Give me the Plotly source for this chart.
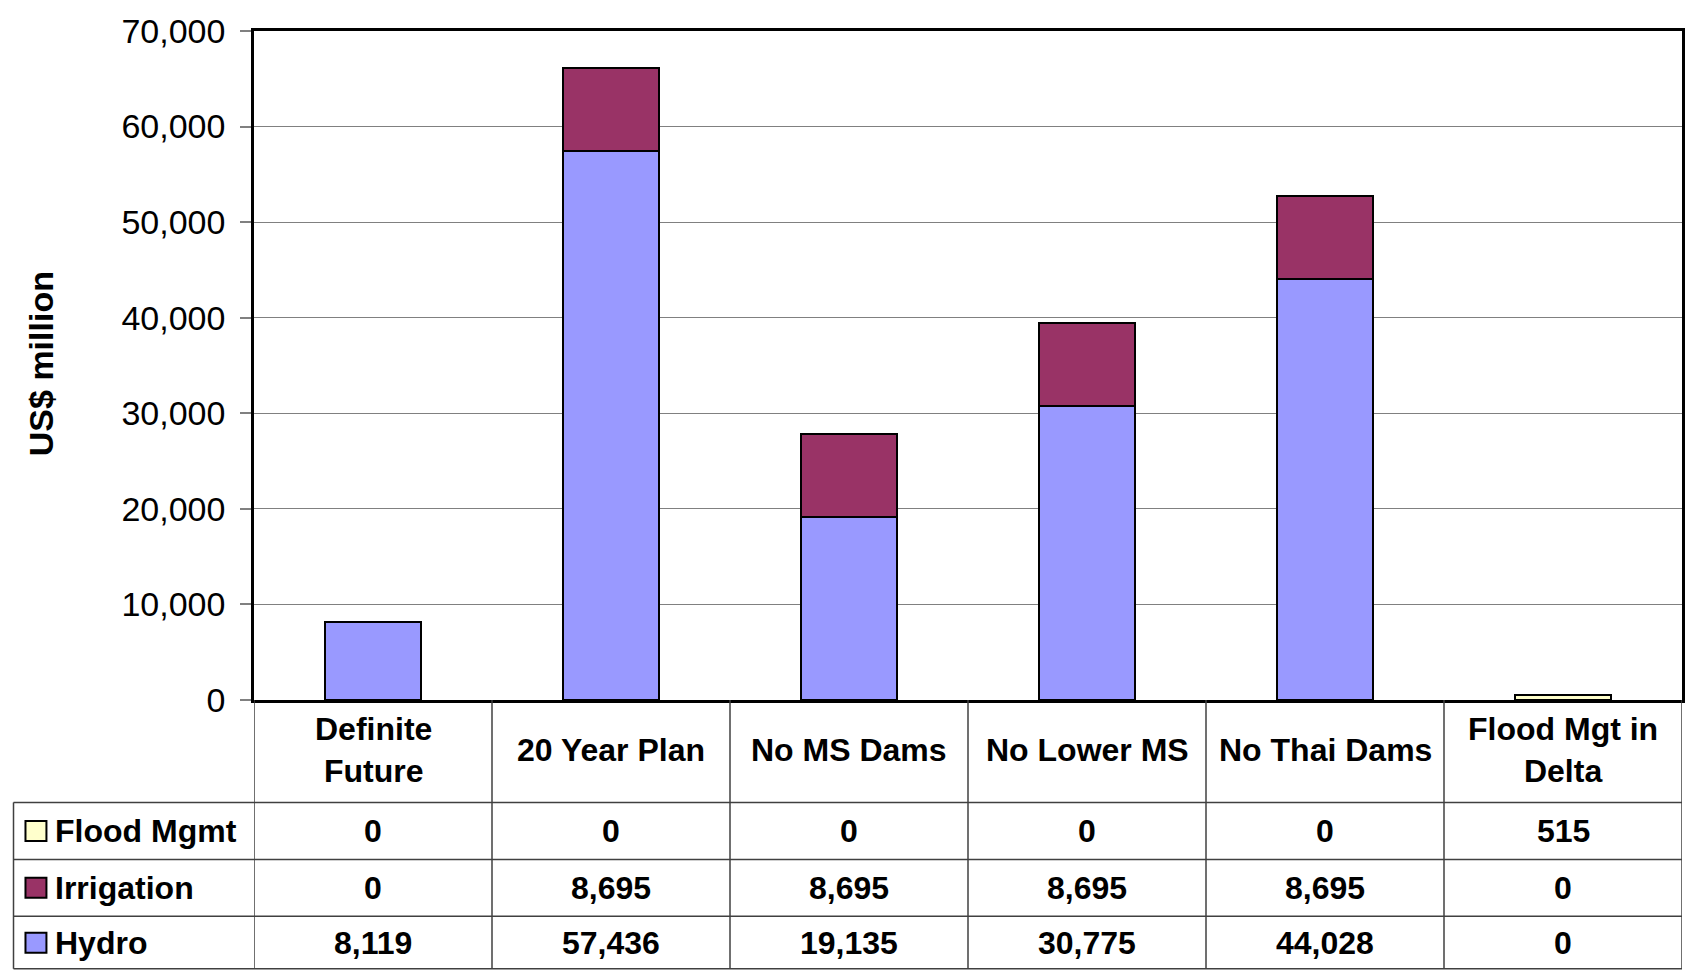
import plotly.graph_objects as go

categories = ["Definite Future", "20 Year Plan", "No MS Dams", "No Lower MS", "No Thai Dams", "Flood Mgt in Delta"]
category_labels = ["Definite<br>Future", "20 Year Plan", "No MS Dams", "No Lower MS", "No Thai Dams", "Flood Mgt in<br>Delta"]
hydro = [8119, 57436, 19135, 30775, 44028, 0]
irrigation = [0, 8695, 8695, 8695, 8695, 0]
flood_mgmt = [0, 0, 0, 0, 0, 515]
y_ticks = [0, 10000, 20000, 30000, 40000, 50000, 60000, 70000]

series = [("Hydro", hydro, "#9999FF"), ("Irrigation", irrigation, "#993366"), ("Flood Mgmt", flood_mgmt, "#FFFFCC")]

W, H = 1690, 971
L, R, T, B = 254, 1685, 31, 700.5

def pyp(y):
    return (B - y) / (B - T)

def pxp(x):
    return (x - L) / (R - L)

FONT = "Liberation Sans, Arial, sans-serif"
TS = 32
fig = go.Figure()
xs = list(range(len(categories)))
for name, vals, color in series:
    fig.add_trace(go.Bar(
        x=xs, y=[v if v else None for v in vals], name=name,
        marker=dict(color=color, line=dict(color="black", width=2)),
        width=0.4, showlegend=False, hoverinfo="y+name"))

shapes = []
annotations = []
line_col = "#404040"
for yy in [803, 860, 917, 969.5]:
    shapes.append(dict(type="line", xref="paper", yref="paper", x0=pxp(13), x1=1, y0=pyp(yy), y1=pyp(yy),
                       line=dict(color=line_col, width=1.5)))
shapes.append(dict(type="line", xref="paper", yref="paper", x0=pxp(13), x1=pxp(13), y0=pyp(803), y1=pyp(969.5),
                   line=dict(color=line_col, width=1.5)))
for k in range(len(categories) + 1):
    shapes.append(dict(type="line", xref="x", yref="paper", x0=k - 0.5, x1=k - 0.5, y0=0, y1=pyp(969.5),
                       line=dict(color=line_col, width=1.5)))

for k, lab in enumerate(category_labels):
    annotations.append(dict(x=k, xref="x", y=pyp(751), yref="paper", text=lab, showarrow=False,
                            xanchor="center", yanchor="middle",
                            font=dict(family=FONT, size=TS, color="black", weight="bold")))

row_centers = {"Flood Mgmt": 831.5, "Irrigation": 888.5, "Hydro": 943.5}
for name, vals, color in series:
    yc = row_centers[name]
    shapes.append(dict(type="rect", xref="paper", yref="paper", x0=pxp(25), x1=pxp(46),
                       y0=pyp(yc - 10), y1=pyp(yc + 10), fillcolor=color, line=dict(color="black", width=2)))
    annotations.append(dict(x=pxp(53), xref="paper", y=pyp(yc), yref="paper", text=name, showarrow=False,
                            xanchor="left", yanchor="middle",
                            font=dict(family=FONT, size=TS, color="black", weight="bold")))
    for k, v in enumerate(vals):
        annotations.append(dict(x=k, xref="x", y=pyp(yc), yref="paper", text=f"{v:,}", showarrow=False,
                                xanchor="center", yanchor="middle",
                                font=dict(family=FONT, size=TS, color="black", weight="bold")))

annotations.append(dict(x=pxp(40), xref="paper", y=pyp(364), yref="paper", text="US$ million", textangle=-90,
                        showarrow=False, xanchor="center", yanchor="middle",
                        font=dict(family=FONT, size=34, color="black", weight="bold")))

fig.update_layout(
    width=W, height=H, barmode="stack",
    margin=dict(l=L, r=W - R, t=T, b=H - B, pad=0),
    paper_bgcolor="white", plot_bgcolor="white",
    shapes=shapes, annotations=annotations,
    xaxis=dict(range=[-0.5, len(categories) - 0.5], showticklabels=False, ticks="", showgrid=False,
               showline=True, mirror=True, linecolor="black", linewidth=2.5, zeroline=False, fixedrange=True),
    yaxis=dict(range=[0, 70000], tickvals=y_ticks, ticktext=[f"{v:,}" for v in y_ticks],
               ticks="outside", ticklen=11, tickcolor="#808080", tickwidth=1.5,
               ticklabelstandoff=8,
               showgrid=True, gridcolor="#808080", gridwidth=1,
               showline=True, mirror=True, linecolor="black", linewidth=2.5, zeroline=False,
               tickfont=dict(family=FONT, size=34, color="black"), fixedrange=True),
    bargap=0.6,
)

fig.write_html("out.html")
